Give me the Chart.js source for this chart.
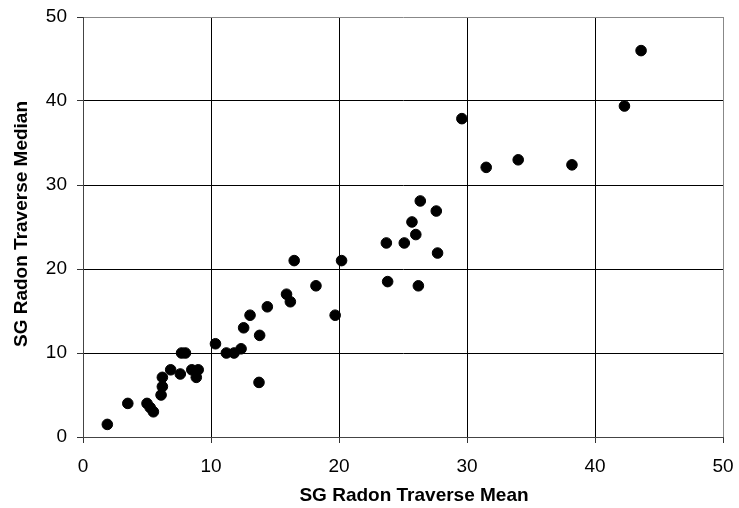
<!DOCTYPE html>
<html>
<head>
<meta charset="utf-8">
<script src="https://cdn.jsdelivr.net/npm/chart.js@4.4.0/dist/chart.umd.min.js"></script>
<style>
  html, body { margin: 0; padding: 0; background: #fff; }
  #wrap { width: 739px; height: 508px; position: relative; }
</style>
</head>
<body>
<div id="wrap"><canvas id="c" width="739" height="508"></canvas></div>
<script>
const xTitle = "SG Radon Traverse Mean";
const yTitle = "SG Radon Traverse Median";
const tickValues = [0, 10, 20, 30, 40, 50];

const meanValues = [1.9, 3.5, 5.0, 5.25, 5.5, 6.1, 6.2, 6.2, 6.85, 7.6, 7.7, 8.0, 8.5, 8.85, 9.0,
  10.35, 11.2, 11.8, 12.35, 12.55, 13.05, 13.75, 13.8, 14.4, 15.9, 16.2, 16.5, 18.2, 19.7, 20.2,
  23.7, 23.8, 25.1, 25.7, 26.0, 26.2, 26.35, 27.6, 27.7, 29.6, 31.5, 34.0, 38.2, 42.3, 43.6];
const medianValues = [1.5, 4.0, 4.0, 3.5, 3.0, 5.0, 6.0, 7.1, 8.0, 7.5, 10, 10, 8.0, 7.1, 8.0,
  11.1, 10, 10, 10.5, 13.0, 14.5, 6.5, 12.1, 15.5, 17.0, 16.1, 21, 18, 14.5, 21,
  23.1, 18.5, 23.1, 25.6, 24.1, 18, 28.1, 26.9, 21.9, 37.9, 32.1, 33.0, 32.4, 39.4, 46];

const points = meanValues.map((m, i) => ({ x: m, y: medianValues[i] }));

const gridColor = ctx => (ctx.tick && ctx.tick.value === 50) ? '#888888' : '#000000';

const axisTitles = {
  id: 'axisTitles',
  afterDraw(chart) {
    const ctx = chart.ctx;
    ctx.save();
    ctx.fillStyle = '#000';
    ctx.font = 'bold 19px "Liberation Sans", Arial, sans-serif';
    ctx.textAlign = 'center';
    ctx.textBaseline = 'middle';
    ctx.fillText(xTitle, 414, 496);
    ctx.translate(22, 224);
    ctx.rotate(-Math.PI / 2);
    ctx.fillText(yTitle, 0, 0);
    ctx.restore();
  }
};

new Chart(document.getElementById('c'), {
  type: 'scatter',
  data: {
    datasets: [{
      data: points,
      backgroundColor: '#000',
      borderColor: '#000',
      pointRadius: 5.3,
      pointHoverRadius: 5.3
    }]
  },
  options: {
    responsive: false,
    animation: false,
    events: [],
    layout: { padding: { top: 17, right: 16, left: 0, bottom: 0 } },
    plugins: { legend: { display: false }, tooltip: { enabled: false } },
    scales: {
      x: {
        type: 'linear',
        min: 0, max: 50,
        afterBuildTicks: s => { s.ticks = tickValues.map(v => ({ value: v })); },
        afterFit: s => { s.height = 71; s.paddingLeft = 0; s.paddingRight = 0; },
        grid: { color: gridColor, lineWidth: 1, tickLength: 6, tickColor: '#333' },
        border: { color: '#444', width: 1 },
        ticks: { color: '#000', padding: 12, font: { family: 'Liberation Sans', size: 19 } },
        title: { display: false }
      },
      y: {
        type: 'linear',
        min: 0, max: 50,
        afterBuildTicks: s => { s.ticks = tickValues.map(v => ({ value: v })); },
        afterFit: s => { s.width = 83; s.paddingTop = 0; s.paddingBottom = 0; },
        grid: { color: gridColor, lineWidth: 1, tickLength: 6, tickColor: '#333' },
        border: { color: '#444', width: 1 },
        ticks: { color: '#000', padding: 10, font: { family: 'Liberation Sans', size: 19 } },
        title: { display: false }
      }
    }
  },
  plugins: [axisTitles]
});
</script>
</body>
</html>
